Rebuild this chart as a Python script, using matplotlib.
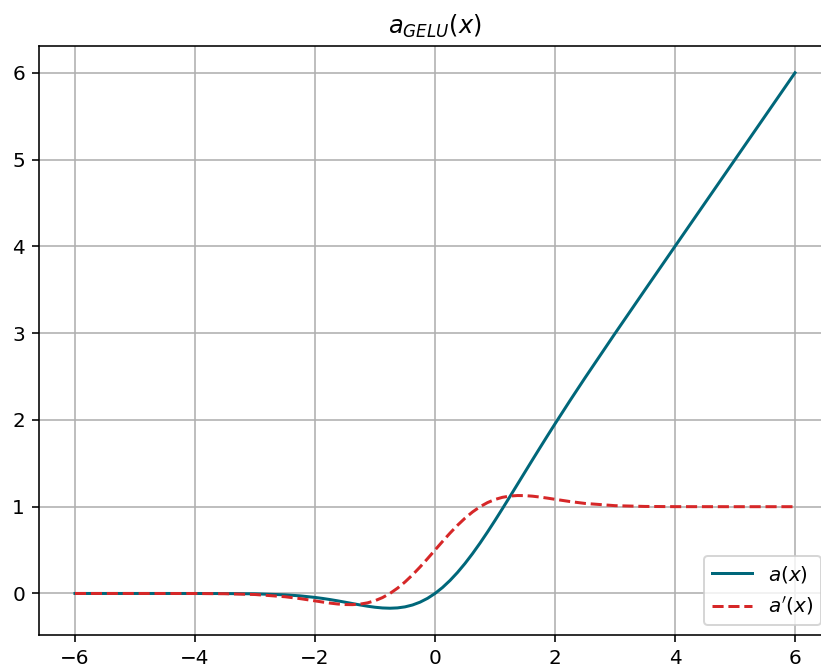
import matplotlib
matplotlib.use("Agg")
import matplotlib.pyplot as plt

# sampled values of the activation and its derivative
x = [-6, -5, -4, -3.5, -3, -2.5, -2.25, -2, -1.875, -1.75, -1.625, -1.5,
     -1.375, -1.25, -1.125, -1, -0.875, -0.75, -0.625, -0.5, -0.375, -0.25,
     -0.125, 0, 0.125, 0.25, 0.375, 0.5, 0.625, 0.75, 0.875, 1, 1.125, 1.25,
     1.375, 1.5, 1.625, 1.75, 1.875, 2, 2.25, 2.5, 3, 3.5, 4, 5, 6]
a = [0.0, 0.0, -0.0001, -0.0008, -0.004, -0.0155, -0.0275, -0.0455, -0.0570,
     -0.0701, -0.0846, -0.1002, -0.1163, -0.1320, -0.1466, -0.1587, -0.1669,
     -0.1700, -0.1662, -0.1543, -0.1327, -0.1003, -0.0563, 0.0, 0.0687,
     0.1497, 0.2423, 0.3457, 0.4588, 0.5800, 0.7081, 0.8413, 0.9784, 1.1180,
     1.2587, 1.3998, 1.5404, 1.6799, 1.8180, 1.9545, 2.2225, 2.4845, 2.9960,
     3.4992, 3.9999, 5.0, 6.0]
da = [0.0, 0.0, -0.0005, -0.0028, -0.0119, -0.0376, -0.0592, -0.0852, -0.0986,
      -0.1109, -0.1211, -0.1275, -0.1286, -0.1227, -0.1081, -0.0833, -0.0473,
      0.0008, 0.0609, 0.1325, 0.2144, 0.3046, 0.4008, 0.5, 0.5992, 0.6954,
      0.7856, 0.8675, 0.9391, 0.9992, 1.0473, 1.0833, 1.1081, 1.1227, 1.1286,
      1.1275, 1.1211, 1.1109, 1.0986, 1.0852, 1.0592, 1.0376, 1.0119, 1.0028,
      1.0005, 1.0, 1.0]

fig = plt.figure(figsize=(821/144, 668/144), dpi=144)
ax = fig.add_axes([39/821, 33/668, 792/821, 589/668])

ax.plot(x, a, color='#00677a', lw=1.5, label=r'$a(x)$')
ax.plot(x, da, color='#d62728', lw=1.5, ls='--', label=r"$a'(x)$")
ax.set_title(r'$a_{GELU}(x)$')
ax.grid(True)
ax.legend(loc='lower right')

fig.savefig('out.png', dpi=144)
